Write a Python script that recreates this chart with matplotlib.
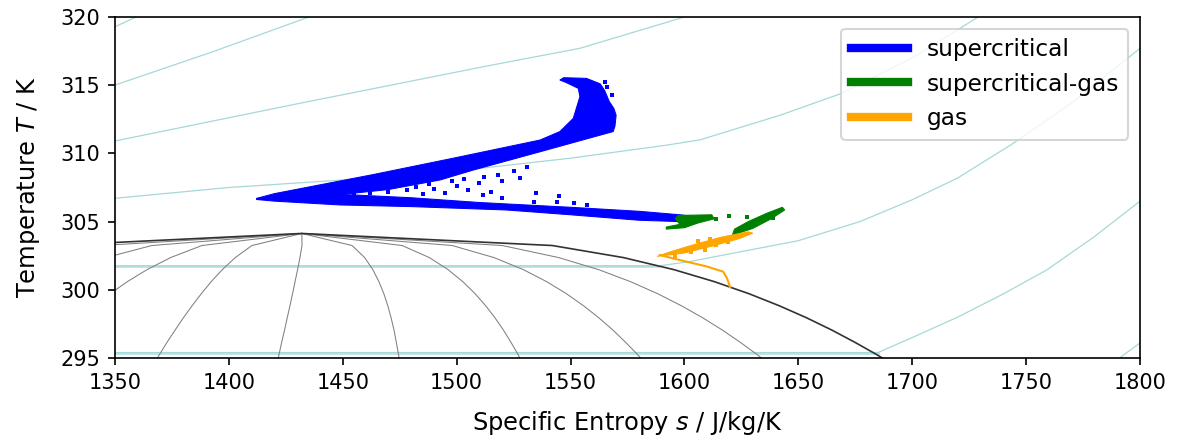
import numpy as np
import matplotlib
matplotlib.use("Agg")
import matplotlib.pyplot as plt
from matplotlib.lines import Line2D

# ---------------- data ----------------
# saturation dome of CO2 (coarse temperature grid, as in the reference)
T_sat = [294.404, 295.288, 296.172, 297.056, 297.940, 298.825, 299.709, 300.594,
         301.477, 302.362, 303.246, 304.130]
s_liq = [1148.8, 1160.1, 1171.8, 1184.3, 1197.5, 1211.9, 1227.5, 1244.9,
         1264.9, 1289.2, 1322.2, 1432.0]
s_vap = [1692.8, 1684.0, 1674.6, 1664.6, 1653.7, 1641.7, 1628.4, 1613.2,
         1595.4, 1573.2, 1542.0, 1432.0]
qualities = [0.1, 0.2, 0.3, 0.4, 0.5, 0.6, 0.7, 0.8, 0.9]

# isobars (two-phase horizontal part + single-phase part)
iso5_s = [1780.0, 1791.0, 1800.0, 1810.0]
iso5_T = [293.8, 295.0, 296.1, 297.3]
iso6_s = [1100.0, 1685.0, 1700.0, 1720.0, 1740.0, 1759.0, 1780.0, 1800.0, 1810.0]
iso6_T = [295.4, 295.4, 296.5, 298.0, 299.7, 301.45, 303.9, 306.5, 307.8]
iso7_s = [1100.0, 1588.6, 1602.0, 1625.0, 1650.0, 1677.0, 1700.0, 1720.0, 1744.0, 1770.0, 1800.0, 1810.0]
iso7_T = [301.75, 301.75, 302.06, 302.8, 303.6, 305.0, 306.6, 308.2, 310.7, 313.7, 317.7, 319.1]
iso8_s = [1330.0, 1350.0, 1400.0, 1450.0, 1510.0, 1550.0, 1592.0, 1607.0, 1642.0, 1669.0, 1700.0, 1728.0, 1735.0]
iso8_T = [306.3, 306.71, 307.5, 308.05, 308.9, 309.65, 310.6, 311.0, 312.8, 314.4, 317.0, 319.9, 320.6]
iso9_s = [1330.0, 1350.0, 1431.0, 1514.6, 1554.0, 1598.0, 1610.0]
iso9_T = [310.2, 310.91, 313.67, 316.45, 317.7, 319.9, 320.6]
iso10_s = [1330.0, 1350.0, 1392.0, 1434.0, 1445.0]
iso10_T = [313.9, 315.01, 317.4, 319.93, 320.6]
iso11_s = [1340.0, 1350.0, 1358.0, 1368.0]
iso11_T = [318.6, 319.29, 319.9, 320.6]

# measured states: supercritical (blue) upper branch outline
sc_up_s = [1412.2, 1420.0, 1463.4, 1500.0, 1536.6, 1545.3, 1551.2, 1554.1, 1553.4, 1548.0,
           1545.3, 1547.0, 1557.0, 1563.0, 1565.0, 1566.0, 1567.0, 1569.0, 1570.0, 1569.5,
           1568.7, 1560.0, 1536.6, 1507.3, 1492.7, 1470.0, 1450.0, 1430.0, 1412.2]
sc_up_T = [306.70, 307.05, 308.45, 309.70, 310.98, 311.60, 312.57, 314.16, 314.77, 315.20,
           315.38, 315.55, 315.50, 315.10, 314.60, 314.20, 313.80, 313.30, 312.80, 312.00,
           311.60, 311.20, 310.12, 308.78, 308.05, 307.35, 307.00, 306.78, 306.62]
# supercritical lower branch outline
sc_lo_s = [1412.2, 1449.0, 1480.0, 1510.0, 1550.0, 1580.5, 1598.0, 1603.0,
           1603.0, 1598.0, 1580.0, 1550.0, 1522.0, 1480.0, 1448.8, 1420.0, 1412.2]
sc_lo_T = [306.70, 307.00, 306.75, 306.40, 306.05, 305.75, 305.50, 305.40,
           305.05, 305.00, 305.10, 305.50, 305.85, 306.10, 306.22, 306.50, 306.62]
# supercritical scattered states
sc_pts_s = [1455, 1462, 1470, 1478, 1485, 1490, 1495, 1500, 1505, 1510, 1515, 1520, 1528,
            1535, 1545, 1511.6, 1520, 1534, 1544, 1551.7, 1557, 1566, 1568, 1565,
            1482, 1488, 1498, 1503, 1512, 1518, 1525, 1531, 1440, 1447]
sc_pts_T = [307.05, 307.1, 307.2, 307.3, 307.0, 307.4, 307.1, 307.6, 307.3, 307.8, 307.2,
            308.0, 308.2, 307.1, 306.9, 306.95, 306.7, 306.46, 306.46, 306.33, 306.2,
            314.9, 314.3, 315.2,
            307.55, 307.75, 307.95, 308.1, 308.3, 308.45, 308.7, 309.0, 307.05, 307.1]

# supercritical-gas (green)
scg1_s = [1597.0, 1612.0, 1613.0, 1606.0, 1600.0, 1592.0, 1592.0, 1598.0, 1596.0]
scg1_T = [305.45, 305.50, 305.20, 304.90, 304.55, 304.45, 304.60, 304.80, 305.20]
scg2_s = [1621.0, 1630.0, 1638.0, 1644.0, 1643.0, 1636.0, 1628.0, 1622.0]
scg2_T = [304.00, 304.50, 305.20, 305.85, 306.05, 305.60, 305.00, 304.45]
scg_pts_s = [1614.0, 1619.5, 1627.3, 1639.0]
scg_pts_T = [305.2, 305.43, 305.36, 305.3]

# gas (orange)
gas_path_s = [1620.0, 1619.0, 1618.5, 1617.0, 1610.0, 1601.0, 1595.0, 1589.2]
gas_path_T = [300.2, 300.7, 300.9, 301.33, 301.7, 302.06, 302.3, 302.55]
gas_band_s = [1588.0, 1600.0, 1612.0, 1624.0, 1630.0, 1628.0, 1616.0, 1605.0, 1595.0]
gas_band_T = [302.45, 302.70, 303.20, 303.75, 304.15, 304.25, 303.85, 303.35, 302.85]
gas_pts_s = [1596, 1603, 1609, 1614, 1619, 1606, 1611]
gas_pts_T = [302.45, 302.75, 302.95, 303.25, 303.5, 303.6, 303.75]

labels = ["supercritical", "supercritical-gas", "gas"]
colors = ["blue", "green", "orange"]

# ---------------- figure ----------------
fig = plt.figure(figsize=(1177 / 150, 438 / 150), dpi=150)
ax = fig.add_axes([0.09771, 0.18265, 0.87086, 0.77854])

iso_col = "#a6d8d8"
for s_arr, T_arr in [(iso5_s, iso5_T), (iso6_s, iso6_T), (iso7_s, iso7_T), (iso8_s, iso8_T),
                     (iso9_s, iso9_T), (iso10_s, iso10_T), (iso11_s, iso11_T)]:
    ax.plot(s_arr, T_arr, color=iso_col, lw=0.6, zorder=1)
# two-phase (horizontal) parts look thicker
ax.plot(iso6_s[:2], iso6_T[:2], color=iso_col, lw=1.4, alpha=0.7, zorder=1)
ax.plot(iso7_s[:2], iso7_T[:2], color=iso_col, lw=1.4, alpha=0.7, zorder=1)

sL = np.array(s_liq)
sV = np.array(s_vap)
for q in qualities:
    ax.plot(sL + q * (sV - sL), T_sat, color="0.5", lw=0.5, zorder=2)
ax.plot(np.concatenate([sL, sV[::-1]]), T_sat + T_sat[::-1], color="0.2", lw=0.8, zorder=2)

ax.fill(sc_up_s, sc_up_T, color="blue", lw=0.5, zorder=3)
ax.fill(sc_lo_s, sc_lo_T, color="blue", lw=0.5, zorder=3)
ax.scatter(sc_pts_s, sc_pts_T, s=4, marker="s", color="blue", lw=0, zorder=3)
ax.fill(scg1_s, scg1_T, color="green", lw=0.5, zorder=3)
ax.fill(scg2_s, scg2_T, color="green", lw=0.5, zorder=3)
ax.scatter(scg_pts_s, scg_pts_T, s=4, marker="s", color="green", lw=0, zorder=3)
ax.plot(gas_path_s, gas_path_T, color="orange", lw=1.0, zorder=3)
ax.fill(gas_band_s, gas_band_T, color="orange", lw=0.5, zorder=3)
ax.scatter(gas_pts_s, gas_pts_T, s=4, marker="s", color="orange", lw=0, zorder=3)

ax.set_xlim(1350, 1800)
ax.set_ylim(295, 320)
ax.set_xticks(np.arange(1350, 1801, 50))
ax.set_yticks(np.arange(295, 321, 5))
ax.set_xlabel("Specific Entropy $s$ / J/kg/K", fontsize=11.6, labelpad=8)
ax.set_ylabel("Temperature $T$ / K", fontsize=11.6, labelpad=9)

handles = [Line2D([0], [0], color=c, lw=4) for c in colors]
ax.legend(handles, labels, loc="upper right", handlelength=2.45, fontsize=11.2)

fig.savefig("out.png", dpi=150)
